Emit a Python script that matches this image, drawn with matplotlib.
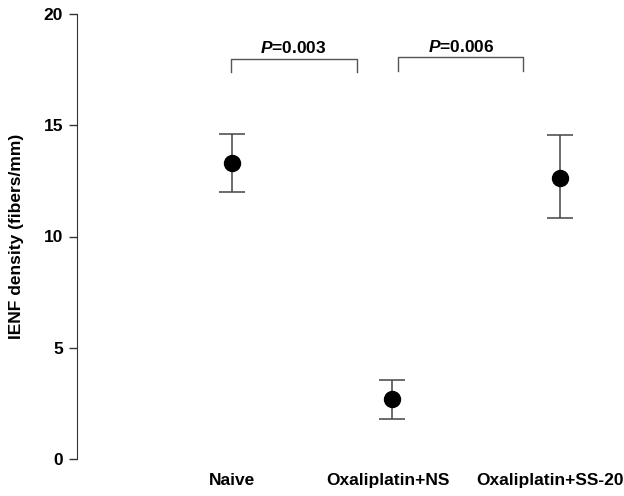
import matplotlib.pyplot as plt

groups = ['Naive', 'Oxaliplatin+NS', 'Oxaliplatin+SS-20']
means = [13.3, 2.7, 12.65]
err_low = [1.3, 0.9, 1.8]
err_high = [1.3, 0.85, 1.9]
comparisons = ['0.003', '0.006']
x_pos = [1, 2, 3.05]
label_pos = [1, 1.975, 2.99]

plt.rcParams['font.family'] = ['Liberation Sans', 'DejaVu Sans']
plt.rcParams['mathtext.fontset'] = 'custom'
plt.rcParams['mathtext.it'] = 'Liberation Sans:bold:italic'
plt.rcParams['mathtext.rm'] = 'Liberation Sans:bold'

fig = plt.figure(figsize=(6.24, 4.96), dpi=100)
ax = fig.add_axes([77 / 624, 1 - 459 / 496, 1 - 77 / 624, (459 - 14) / 496])

ax.errorbar(x_pos, means, yerr=[err_low, err_high], fmt='o', color='black',
            markersize=11.5, ecolor='#444444', elinewidth=1.1, capsize=9.5,
            capthick=1.1)

# significance brackets
brackets = [(0.99, 1.78, 18.0), (2.04, 2.82, 18.05)]
for (x0, x1, y), val in zip(brackets, comparisons):
    ax.plot([x0, x0, x1, x1], [y - 0.6, y, y, y - 0.6], color='#555555', lw=1.0)
    ax.text((x0 + x1) / 2, y + 0.12, r'$\mathit{P}$=' + val,
            ha='center', va='bottom', fontsize=12.5, fontweight='bold')

ax.set_xlim(0.03, 3.45)
ax.set_ylim(0, 20)
ax.set_yticks([0, 5, 10, 15, 20])
ax.set_xticks(label_pos)
ax.set_xticklabels(groups, fontsize=12.5, fontweight='bold')
ax.tick_params(axis='x', length=0, pad=10)
ax.tick_params(axis='y', length=6, width=1, pad=4, labelsize=12.5, color='#333333')
for lbl in ax.get_yticklabels():
    lbl.set_fontweight('bold')
ax.set_ylabel('IENF density (fibers/mm)', fontsize=12.5, fontweight='bold', labelpad=14)

for side in ['top', 'right', 'bottom']:
    ax.spines[side].set_visible(False)
ax.spines['left'].set_color('#333333')

fig.savefig('out.png', dpi=100)
